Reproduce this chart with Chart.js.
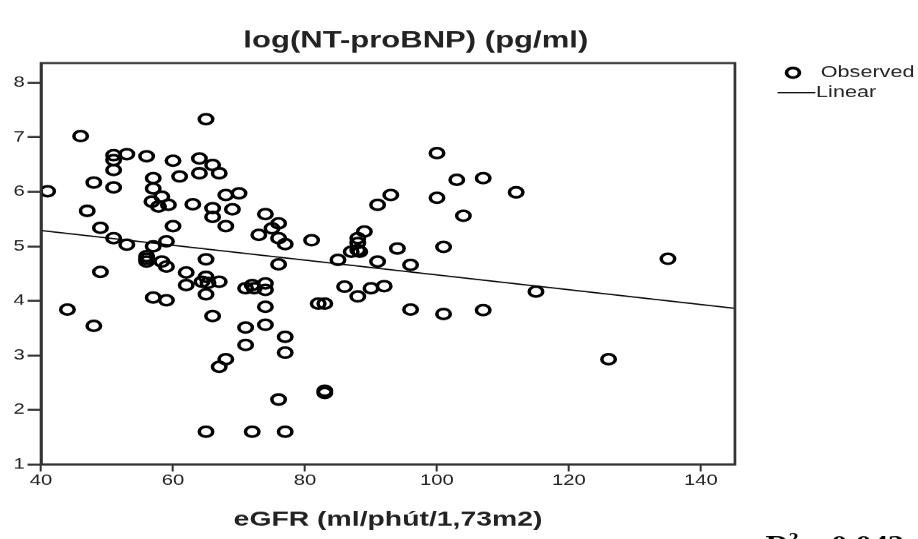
<!DOCTYPE html>
<html>
<head>
<meta charset="utf-8">
<script src="https://cdn.jsdelivr.net/npm/chart.js@4.4.1/dist/chart.umd.min.js"></script>
<style>
  html, body { margin: 0; padding: 0; background: #fff; overflow: hidden; }
  /* the source picture is stretched sideways, so the chart is drawn narrow and widened */
  #wrap { width: 680px; height: 539px; transform: scale(1.35, 1); transform-origin: 0 0; }
</style>
</head>
<body>
<div id="wrap"><canvas id="chart" width="680" height="539"></canvas></div>
<script>
// data
const egfr = [
  41, 44, 46, 47, 48, 48, 49, 49, 51, 51, 51, 51, 51, 53, 53, 56, 56, 56, 56, 57,
  57, 56.8, 57.8, 58.3, 59.3, 57, 57, 58.3, 59, 59, 59, 60, 60, 61, 62, 62, 63, 64, 64, 64.4,
  65, 65, 65, 65.3, 65, 65, 66, 66, 66, 66, 67, 67, 67, 68, 68, 68, 69, 70, 71, 71,
  71, 72, 72.3, 72, 73, 74, 74, 74, 74, 74, 75, 76, 76, 76, 76, 77, 77, 77, 77, 81,
  82, 83, 83, 83, 85, 86, 87, 88, 88, 88, 88, 88.3, 89, 90, 91, 91, 92, 93, 94, 96,
  96, 100, 100, 101, 101, 103, 104, 107, 107, 112, 115, 126, 135
];
const logBnp = [
  6.01, 3.84, 7.02, 5.65, 6.17, 3.54, 5.34, 4.53, 6.67, 6.58, 6.40, 6.08, 5.15, 6.69, 5.03, 6.65, 4.82, 4.77, 4.72, 6.25,
  6.06, 5.82, 5.73, 5.91, 5.76, 5.00, 4.06, 4.72, 4.63, 5.09, 4.01, 6.57, 5.37, 6.28, 4.52, 4.29, 5.77, 6.61, 6.34, 4.35,
  7.33, 4.76, 4.44, 4.33, 4.12, 1.60, 6.49, 5.70, 5.54, 3.72, 6.34, 4.35, 2.79, 5.94, 5.37, 2.93, 5.68, 5.97, 4.23, 3.51,
  3.19, 4.29, 4.23, 1.60, 5.21, 5.59, 4.32, 4.20, 3.89, 3.56, 5.33, 5.42, 5.15, 4.67, 2.19, 5.04, 3.34, 3.05, 1.60, 5.11,
  3.95, 3.95, 2.35, 2.31, 4.75, 4.26, 4.90, 5.15, 5.06, 4.93, 4.08, 4.90, 5.27, 4.23, 5.76, 4.72, 4.27, 5.94, 4.96, 4.66,
  3.84, 6.71, 5.89, 4.99, 3.76, 6.22, 5.56, 6.25, 3.83, 5.99, 4.17, 2.93, 4.77
];
// linear fit as drawn
const fitIntercept = 5.835;
const fitSlope = -0.0136;
const xRange = [40, 145.15];
const yRange = [1, 8.36];
const xTicks = [40, 60, 80, 100, 120, 140];
const yTicks = [1, 2, 3, 4, 5, 6, 7, 8];

const observed = egfr.map((x, i) => ({x: x, y: logBnp[i]}));
const linear = xRange.map(x => ({x: x, y: fitIntercept + fitSlope * x}));

const ink = '#222';
const sans = '"Liberation Sans", Arial, sans-serif';

// frame, title, legend and the R2 note
const extras = {
  id: 'extras',
  afterDatasetsDraw(chart) {
    const {ctx, chartArea: a} = chart;
    ctx.save();
    ctx.strokeStyle = '#333';
    ctx.lineWidth = 2;
    ctx.strokeRect(a.left, a.top, a.right - a.left, a.bottom - a.top);

    ctx.fillStyle = ink;
    ctx.textBaseline = 'middle';
    ctx.textAlign = 'center';
    ctx.font = 'bold 23px ' + sans;
    ctx.fillText('log(NT-proBNP) (pg/ml)', 308, 41);

    // legend
    const ds = chart.data.datasets;
    ctx.textAlign = 'left';
    ctx.font = '16px ' + sans;
    ctx.beginPath();
    ctx.arc(587.4, 72.7, 4.8, 0, Math.PI * 2);
    ctx.strokeStyle = '#000';
    ctx.lineWidth = 2.7;
    ctx.stroke();
    ctx.fillText(ds[0].label, 608, 73);
    ctx.beginPath();
    ctx.moveTo(576, 92.5);
    ctx.lineTo(604, 92.5);
    ctx.lineWidth = 1.3;
    ctx.stroke();
    ctx.fillText(ds[1].label, 604.5, 93);

    // R2 note, cut by the bottom edge
    ctx.textBaseline = 'alphabetic';
    ctx.font = 'bold 24px "Liberation Serif", "Times New Roman", serif';
    ctx.fillStyle = '#000';
    ctx.fillText('R', 567, 551);
    ctx.font = 'bold 15px "Liberation Serif", "Times New Roman", serif';
    ctx.fillText('2', 584, 543);
    ctx.font = 'bold 24px "Liberation Serif", "Times New Roman", serif';
    ctx.fillText('= 0,042', 596, 551);
    ctx.restore();
  }
};

new Chart(document.getElementById('chart'), {
  type: 'scatter',
  data: {
    datasets: [
      {
        label: 'Observed',
        data: observed,
        pointStyle: 'circle',
        pointRadius: 5,
        pointHoverRadius: 5,
        pointBorderWidth: 2.6,
        pointBackgroundColor: 'rgba(0,0,0,0)',
        pointBorderColor: '#000',
        order: 1
      },
      {
        type: 'line',
        label: 'Linear',
        data: linear,
        borderColor: '#000',
        borderWidth: 1.3,
        pointRadius: 0,
        fill: false,
        order: 2
      }
    ]
  },
  options: {
    responsive: false,
    animation: false,
    devicePixelRatio: 1.35,
    layout: {padding: {top: 63, left: 0, right: 135.6, bottom: 0}},
    plugins: {
      legend: {display: false},
      title: {display: false},
      tooltip: {enabled: false}
    },
    scales: {
      x: {
        type: 'linear',
        min: xRange[0],
        max: xRange[1],
        afterFit(scale) { scale.height = 75; },
        afterBuildTicks(scale) { scale.ticks = xTicks.map(v => ({value: v})); },
        ticks: {color: ink, font: {family: sans, size: 15}, padding: 0, maxRotation: 0},
        grid: {drawOnChartArea: false, drawTicks: true, tickLength: 7, tickWidth: 1.5, tickColor: '#333'},
        border: {display: true, color: '#333', width: 2},
        title: {
          display: true,
          text: 'eGFR (ml/phút/1,73m2)',
          color: ink,
          font: {family: sans, size: 21, weight: 'bold'},
          padding: {top: 0, bottom: 7}
        }
      },
      y: {
        type: 'linear',
        min: yRange[0],
        max: yRange[1],
        afterFit(scale) { scale.width = 30.4; },
        afterBuildTicks(scale) { scale.ticks = yTicks.map(v => ({value: v})); },
        ticks: {color: ink, font: {family: sans, size: 15}, padding: 2},
        grid: {drawOnChartArea: false, drawTicks: true, tickLength: 10, tickWidth: 2, tickColor: '#333'},
        border: {display: true, color: '#333', width: 2}
      }
    }
  },
  plugins: [extras]
});
</script>
</body>
</html>
